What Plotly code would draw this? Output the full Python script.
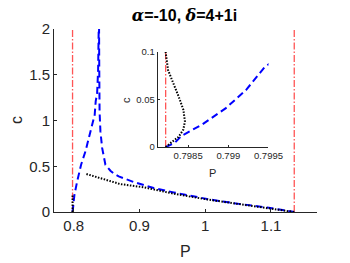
import plotly.graph_objects as go

# ---- data ----
blue_P = [0.79822, 0.79833, 0.79842, 0.79867, 0.79897, 0.79922, 0.79945, 0.8011, 0.8052, 0.8112,
          0.8178, 0.8254, 0.8319, 0.8334, 0.8356, 0.8371, 0.8380, 0.8384, 0.8388, 0.8391,
          0.8393, 0.8406, 0.8432, 0.8482, 0.8558, 0.8612, 0.8684, 0.8912, 0.9216, 0.952,
          0.9824, 1.0027, 1.0435, 1.0942, 1.1354]
blue_c = [0.0, 0.0042, 0.0119, 0.0235, 0.041, 0.060, 0.0838, 0.189, 0.334, 0.517,
          0.662, 0.881, 1.063, 1.209, 1.30, 1.555, 2.01, 2.2, 1.6, 1.209,
          1.099, 0.881, 0.70, 0.517, 0.451, 0.419, 0.389, 0.328, 0.262, 0.214,
          0.171, 0.142, 0.096, 0.049, 0.0]

black_P = [0.79822, 0.79823, 0.79829, 0.79838, 0.79844, 0.79846, 0.79844, 0.79838, 0.79831, 0.79825,
           0.79822, 0.79821, 0.79821, None,
           0.8193, 0.8558, 0.8708, 0.9064, 0.957, 1.0027, 1.0435, 1.0942, 1.1354]
black_c = [0.0, 0.0006, 0.0049, 0.0106, 0.0183, 0.027, 0.0394, 0.0535, 0.0677, 0.081,
           0.1, 0.15, 0.19, None,
           0.415, 0.34, 0.305, 0.27, 0.193, 0.137, 0.094, 0.047, 0.0]

red_P = [0.79822, 1.1354]
red_c = [0.0, 2.0]

main_xticks = [0.8, 0.9, 1.0, 1.1]
main_xlabels = ["0.8", "0.9", "1", "1.1"]
main_yticks = [0, 0.5, 1, 1.5, 2]
main_ylabels = ["0", "0.5", "1", "1.5", "2"]
inset_xticks = [0.7985, 0.799, 0.7995]
inset_xlabels = ["0.7985", "0.799", "0.7995"]
inset_yticks = [0, 0.05, 0.1]
inset_ylabels = ["0", "0.05", "0.1"]

AX = "#262626"
RED = "rgb(255,85,85)"
FONT = "Liberation Sans, Arial, sans-serif"

fig = go.Figure()

def add_curves(xa, ya, wb, wk, wr):
    for p in red_P:
        fig.add_trace(go.Scatter(x=[p, p], y=red_c, mode="lines", xaxis=xa, yaxis=ya,
                                 line=dict(color=RED, width=wr, dash="7px,2px,1.5px,2px"),
                                 showlegend=False, hoverinfo="skip"))
    fig.add_trace(go.Scatter(x=blue_P, y=blue_c, mode="lines", xaxis=xa, yaxis=ya,
                             line=dict(color="rgb(0,0,255)", width=wb, dash="7px,4px"),
                             showlegend=False, hoverinfo="skip"))
    fig.add_trace(go.Scatter(x=black_P, y=black_c, mode="lines", xaxis=xa, yaxis=ya,
                             line=dict(color="black", width=wk, dash="1.5px,1.5px"),
                             connectgaps=False, showlegend=False, hoverinfo="skip"))

add_curves("x", "y", 2, 2, 1.3)
add_curves("x2", "y2", 2, 2, 1.3)

axis_common = dict(showline=True, linecolor=AX, linewidth=1, ticks="inside", tickcolor=AX,
                   showgrid=False, zeroline=False, mirror=False)

# plot-area pixel box
pl, pr, pt, pb = 54, 350 - 33, 29, 263 - 51

def px2paper(px, py):
    return (px - pl) / (pr - pl), (pb - py) / (pb - pt)

labels = [("P", 185.5, 251, 16, 0), ("c", 16, 120, 16, -90),
          ("P", 212.3, 173.3, 11, 0), ("c", 126, 100, 11, -90)]
annotations = []
for txt, px, py, size, ang in labels:
    ax_, ay_ = px2paper(px, py)
    annotations.append(dict(text=txt, x=ax_, y=ay_, xref="paper", yref="paper", showarrow=False,
                            font=dict(size=size, color=AX), textangle=ang,
                            xanchor="center", yanchor="middle"))

fig.update_layout(
    width=350, height=263,
    margin=dict(l=pl, r=350 - pr, t=pt, b=263 - pb),
    paper_bgcolor="white", plot_bgcolor="white",
    font=dict(family=FONT, color=AX),
    xaxis=dict(range=[0.77, 1.17], tickvals=main_xticks, ticktext=main_xlabels,
               ticklen=3, tickfont=dict(size=15), domain=[0, 1], anchor="y", **axis_common),
    yaxis=dict(range=[0, 2], tickvals=main_yticks, ticktext=main_ylabels,
               ticklen=3, tickfont=dict(size=15), domain=[0, 1], anchor="x", **axis_common),
    xaxis2=dict(range=[0.79812, 0.7995], tickvals=inset_xticks, ticktext=inset_xlabels,
                ticklen=2, tickfont=dict(size=9.5), domain=[0.394, 0.8155], anchor="y2", **axis_common),
    yaxis2=dict(range=[0, 0.1], tickvals=inset_yticks, ticktext=inset_ylabels,
                ticklen=2, tickfont=dict(size=9.5), domain=[0.355, 0.874], anchor="x2", **axis_common),
    title=dict(text='<b><span style="font-family:DejaVu Serif"><i>α</i></span>=-10, '
                    '<span style="font-family:DejaVu Serif"><i>δ</i></span>=4+1i</b>',
               x=184.5 / 350, xanchor="center", y=1 - 15 / 263, yanchor="middle",
               font=dict(size=16, color="black")),
    annotations=annotations,
)

fig.write_html("out.html", config={"displayModeBar": False},
               post_script="document.body.style.margin='0px';")
